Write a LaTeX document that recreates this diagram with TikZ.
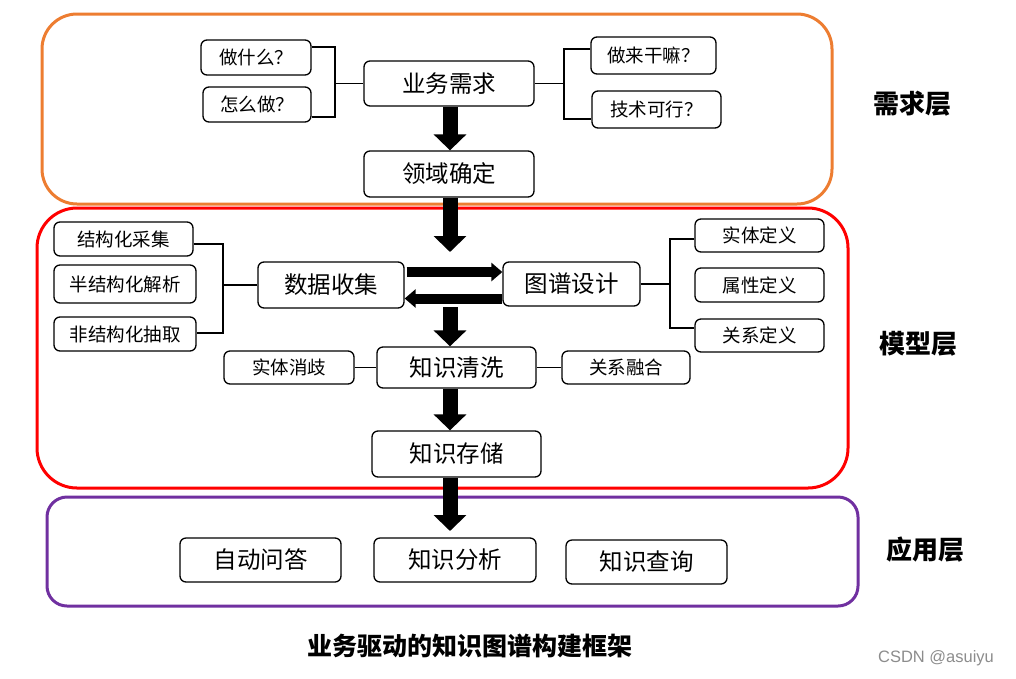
\documentclass[tikz,border=0pt]{standalone}
\usepackage{fontspec}
\setmainfont{Noto Sans CJK SC}
\newfontfamily\latinfont{Liberation Sans}
\usetikzlibrary{arrows.meta}
\definecolor{lorange}{HTML}{ED7D31}
\definecolor{lred}{HTML}{FF0000}
\definecolor{lpurple}{HTML}{7030A0}
\begin{document}
\begin{tikzpicture}[x=1pt,y=-1pt,
 box/.style={draw=black, line width=1.3pt, rounded corners=6pt, fill=white, align=center, inner sep=0pt},
 big/.style={box, font=\fontsize{23.5}{27}\selectfont},
 small/.style={box, font=\fontsize{18.5}{22}\selectfont},
 link/.style={draw=black, line width=1.5pt},
 bigarrow/.style={line width=15pt, -{Triangle[length=16pt,width=32pt]}},
 sidearrow/.style={line width=10pt, -{Triangle[length=11pt,width=18pt]}},
 layerlabel/.style={font=\fontsize{26}{30}\selectfont\bfseries},
]
\useasboundingbox (0,0) rectangle (1016,678);

% layer frames
\draw[lorange, line width=3pt, rounded corners=35pt] (42,14) rectangle (832,204);
\draw[lred, line width=3pt, rounded corners=40pt] (37,208) rectangle (848,488);
\draw[lpurple, line width=3pt, rounded corners=20pt] (47,497) rectangle (858,606);

\coordinate (col) at (450,0);

% demand layer
\node[small, minimum width=110pt, minimum height=35pt] (q1) at (256,57.5) {做什么？};
\node[small, minimum width=108pt, minimum height=35pt] (q2) at (257,104.5) {怎么做？};
\node[big, minimum width=170pt, minimum height=45pt] (bz) at (449,83.5) {业务需求};
\node[small, minimum width=125pt, minimum height=37pt] (q3) at (653.5,55.5) {做来干嘛？};
\node[small, minimum width=129pt, minimum height=37pt] (q4) at (656.5,109.5) {技术可行？};
\node[big, minimum width=170pt, minimum height=46pt] (ly) at (449,174) {领域确定};

\coordinate (lb) at (335,0);
\draw[link] ([yshift=10.5pt]q1.east) -- ([yshift=10.5pt]q1.east -| lb) -- ([yshift=-12.5pt]q2.east -| lb) -- ([yshift=-12.5pt]q2.east);
\draw[link] (lb |- bz.west) -- (bz.west);
\coordinate (rb) at (564,0);
\draw[link] ([yshift=6.5pt]q3.west) -- ([yshift=6.5pt]q3.west -| rb) -- ([yshift=-9.5pt]q4.west -| rb) -- ([yshift=-9.5pt]q4.west);
\draw[link] (bz.east) -- (bz.east -| rb);

\draw[bigarrow] (col |- bz.south) -- (col |- ly.north);

% model layer
\node[small, minimum width=139pt, minimum height=34pt] (s1) at (123.5,239) {结构化采集};
\node[small, minimum width=142pt, minimum height=38pt] (s2) at (125,284) {半结构化解析};
\node[small, minimum width=142pt, minimum height=34pt] (s3) at (125,334) {非结构化抽取};
\node[big, minimum width=146pt, minimum height=46pt] (ds) at (331,285) {数据收集};
\node[big, minimum width=137pt, minimum height=44pt] (tp) at (571.5,284) {图谱设计};
\node[small, minimum width=129pt, minimum height=33pt] (d1) at (759.5,235.5) {实体定义};
\node[small, minimum width=129pt, minimum height=34pt] (d2) at (759.5,285) {属性定义};
\node[small, minimum width=129pt, minimum height=33pt] (d3) at (759.5,335.5) {关系定义};
\node[big, minimum width=159pt, minimum height=41pt] (qx) at (456.5,367.5) {知识清洗};
\node[small, minimum width=130pt, minimum height=33pt] (xq) at (289,367.5) {实体消歧};
\node[small, minimum width=128pt, minimum height=33pt] (rh) at (626,367.5) {关系融合};
\node[big, minimum width=169pt, minimum height=46pt] (cc) at (456.5,454) {知识存储};

\coordinate (mlb) at (223,0);
\draw[link] ([yshift=-5pt]s1.east) -- ([yshift=-5pt]s1.east -| mlb) -- ([yshift=1pt]s3.east -| mlb) -- ([yshift=1pt]s3.east);
\draw[link] (mlb |- ds.west) -- (ds.west);
\coordinate (mrb) at (670,0);
\draw[link] ([yshift=-3.5pt]d1.west) -- ([yshift=-3.5pt]d1.west -| mrb) -- ([yshift=7.5pt]d3.west -| mrb) -- ([yshift=7.5pt]d3.west);
\draw[link] (tp.east) -- (tp.east -| mrb);
\draw[link] (xq) -- (qx);
\draw[link] (qx) -- (rh);

\coordinate (dtop) at (450,252);
\draw[bigarrow] (col |- ly.south) -- (dtop);
\coordinate (r1) at (0,272);
\coordinate (r2) at (0,298.5);
\draw[sidearrow, shorten <=2pt] (ds.east |- r1) -- (tp.west |- r1);
\draw[sidearrow] (tp.west |- r2) -- (ds.east |- r2);
\coordinate (qtop) at (450,307);
\draw[bigarrow] (qtop) -- (col |- qx.north);
\draw[bigarrow] (col |- qx.south) -- (col |- cc.north);

% application layer
\node[big, minimum width=161pt, minimum height=44pt] (a1) at (260.5,560) {自动问答};
\node[big, minimum width=162pt, minimum height=44pt] (a2) at (455,560) {知识分析};
\node[big, minimum width=161pt, minimum height=44pt] (a3) at (646.5,562) {知识查询};
\coordinate (atip) at (450,531);
\draw[bigarrow] (col |- cc.south) -- (atip);

% labels
\node[layerlabel] (l1) at (912,104) {需求层};
\node[layerlabel] (l2) at (918,344) {模型层};
\node[layerlabel] (l3) at (925,550) {应用层};
\node[font=\fontsize{25}{28}\selectfont\bfseries] (cap) at (470,646) {业务驱动的知识图谱构建框架};
\node[text=black!45, font=\latinfont\fontsize{16.5}{19}\selectfont] (wm) at (936,658) {CSDN @asuiyu};
\end{tikzpicture}
\end{document}
